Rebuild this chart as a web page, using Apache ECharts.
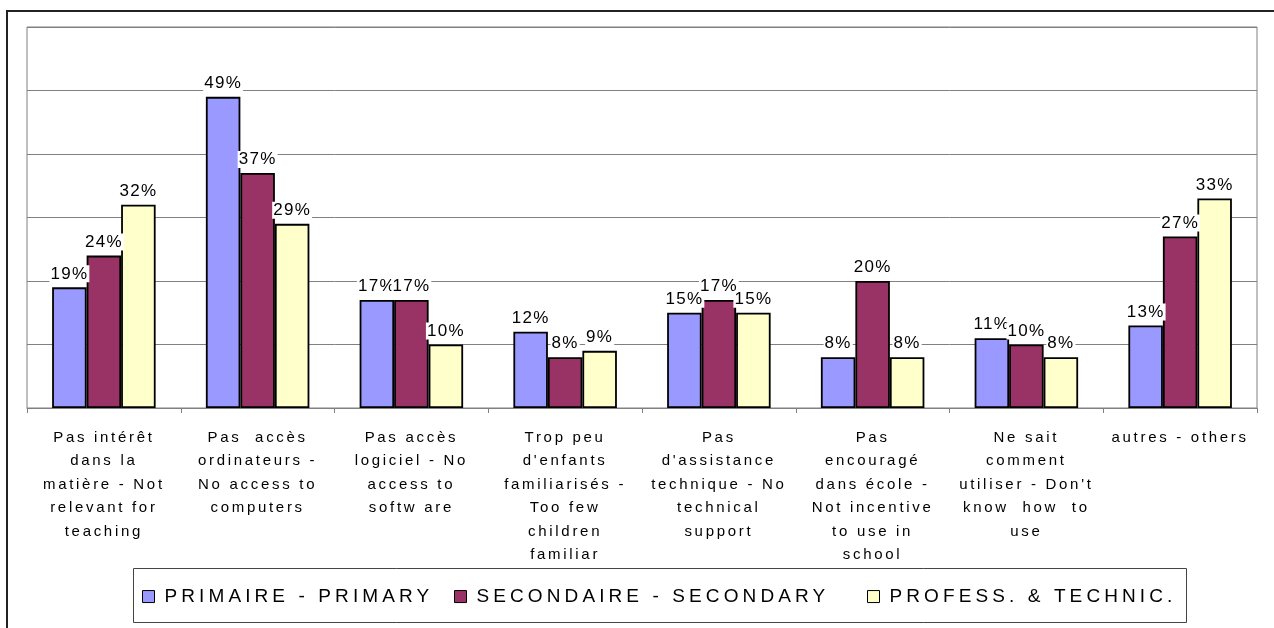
<!DOCTYPE html>
<html>
<head>
<meta charset="utf-8">
<script src="https://cdn.jsdelivr.net/npm/echarts@6/dist/echarts.min.js"></script>
<style>
html,body{margin:0;padding:0;background:#fff;}
#chart{width:1274px;height:628px;}
</style>
</head>
<body>
<div id="chart"></div>
<script>
// ---- data ----
var categories = [
  "Pas intérêt\ndans la\nmatière - Not\nrelevant for\nteaching",
  "Pas  accès\nordinateurs -\nNo access to\ncomputers",
  "Pas accès\nlogiciel - No\naccess to\nsoftw are",
  "Trop peu\nd'enfants\nfamiliarisés -\nToo few\nchildren\nfamiliar",
  "Pas\nd'assistance\ntechnique - No\ntechnical\nsupport",
  "Pas\nencouragé\ndans école -\nNot incentive\nto use in\nschool",
  "Ne sait\ncomment\nutiliser - Don't\nknow  how  to\nuse",
  "autres - others"
];
var seriesNames = ["PRIMAIRE - PRIMARY", "SECONDAIRE - SECONDARY", "PROFESS. & TECHNIC."];
var primary   = [19, 49, 17, 12, 15, 8, 11, 13];
var secondary = [24, 37, 17, 8, 17, 20, 10, 27];
var profTech  = [32, 29, 10, 9, 15, 8, 8, 33];
var yTicks = [0, 10, 20, 30, 40, 50, 60];

// ---- letter spacing emulation (per font size) ----
(function () {
  var spacingBySize = {15: 2.7, 17: 1.3, 19: 4.1};
  var proto = window.CanvasRenderingContext2D && CanvasRenderingContext2D.prototype;
  if (!proto || !('letterSpacing' in proto)) return;
  var d = Object.getOwnPropertyDescriptor(proto, 'font');
  if (!d || !d.set) return;
  Object.defineProperty(proto, 'font', {
    configurable: true,
    get: function () { return d.get.call(this); },
    set: function (v) {
      d.set.call(this, v);
      var m = /(\d+(?:\.\d+)?)px/.exec(v);
      var s = m ? parseFloat(m[1]) : 0;
      this.letterSpacing = (spacingBySize[s] || 0) + 'px';
    }
  });
})();

var FONT = "'Liberation Sans', Arial, sans-serif";
var colors = ['#9999FF', '#993366', '#FFFFCC'];
var values = [primary, secondary, profTech];

var chart = echarts.init(document.getElementById('chart'), null, {renderer: 'canvas'});

function mkSeries(i) {
  return {
    name: seriesNames[i],
    type: 'bar',
    data: values[i],
    barWidth: 34.5,
    barGap: '0%',
    itemStyle: {color: colors[i], borderColor: '#000', borderWidth: 1.8},
    label: {
      show: true,
      position: 'top',
      distance: 5,
      formatter: '{c}%',
      color: '#000',
      fontFamily: FONT,
      fontSize: 17,
      lineHeight: 17,
      backgroundColor: '#fff',
      padding: [0, 1, 0, 1]
    },
    emphasis: {disabled: true}
  };
}

function mkLegend(i, left) {
  return {
    data: [seriesNames[i]],
    left: left,
    top: 585,
    padding: 0,
    icon: 'rect',
    itemWidth: 12,
    itemHeight: 12,
    itemStyle: {borderColor: '#000', borderWidth: 1},
    textStyle: {fontFamily: FONT, fontSize: 19, color: '#000', padding: [0, 0, 0, 5]},
    selectedMode: false
  };
}

var option = {
  animation: false,
  backgroundColor: '#fff',
  textStyle: {fontFamily: FONT},
  grid: {left: 27, right: 17, top: 27, bottom: 220, show: true, borderColor: '#808080', borderWidth: 1, backgroundColor: 'transparent'},
  legend: [mkLegend(0, 142), mkLegend(1, 454), mkLegend(2, 867)],
  xAxis: {
    type: 'category',
    data: categories,
    axisLine: {lineStyle: {color: '#808080', width: 1}},
    axisTick: {show: true, length: 5, lineStyle: {color: '#808080'}},
    axisLabel: {interval: 0, margin: 18, fontFamily: FONT, fontSize: 15, lineHeight: 23.5, color: '#000', align: 'center'}
  },
  yAxis: {
    type: 'value',
    min: yTicks[0],
    max: yTicks[yTicks.length - 1],
    interval: yTicks[1] - yTicks[0],
    axisLabel: {show: false},
    axisLine: {show: false},
    axisTick: {show: false},
    splitLine: {lineStyle: {color: '#808080', width: 1}}
  },
  series: [mkSeries(0), mkSeries(1), mkSeries(2)],
  graphic: [
    {type: 'rect', silent: true, z: 100, shape: {x: 7, y: 11, width: 1320, height: 700}, style: {fill: 'none', stroke: '#222', lineWidth: 2}},
    {type: 'rect', silent: true, z: 100, shape: {x: 133.5, y: 568.5, width: 1053, height: 54}, style: {fill: 'none', stroke: '#444', lineWidth: 1}}
  ]
};
chart.setOption(option);
</script>
</body>
</html>
